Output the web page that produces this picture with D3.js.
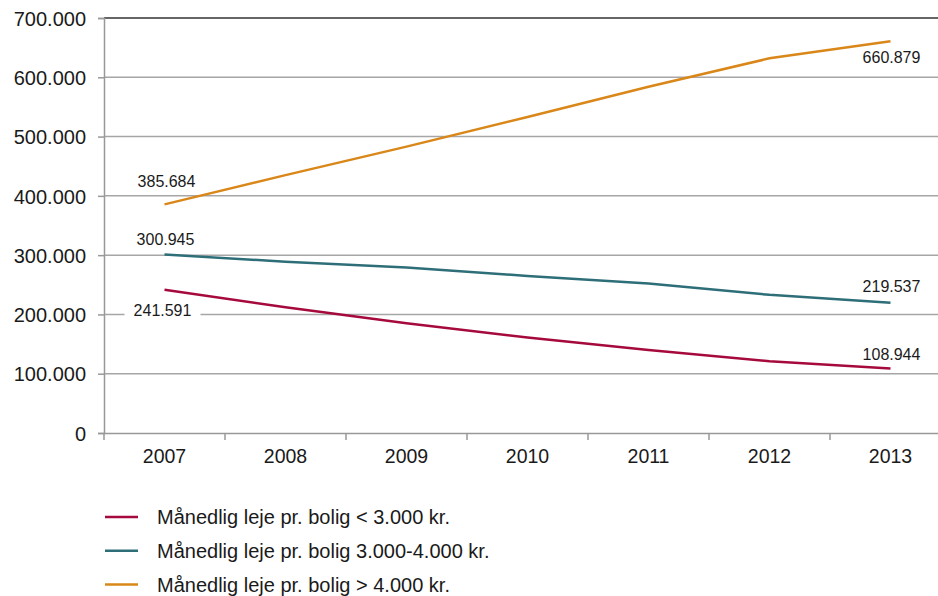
<!DOCTYPE html>
<meta charset="utf-8">
<html>
<head>
<script src="https://d3js.org/d3.v7.min.js"></script>
<style>
  body { margin: 0; background: #fff; }
  svg { display: block; font-family: "Liberation Sans", Arial, sans-serif; }
  .grid line { stroke: #a6a6a6; stroke-width: 1.5; }
  .tick text { fill: #1a1a1a; }
</style>
</head>
<body>
<svg id="chart" width="938" height="596"></svg>
<script>
  // data
  var years = ["2007", "2008", "2009", "2010", "2011", "2012", "2013"];
  var seriesNames = [
    "Månedlig leje pr. bolig < 3.000 kr.",
    "Månedlig leje pr. bolig 3.000-4.000 kr.",
    "Månedlig leje pr. bolig > 4.000 kr."
  ];
  var under3000 = [241591, 212000, 185000, 161000, 140000, 121000, 108944];
  var from3000to4000 = [300945, 289000, 279000, 265000, 252000, 233000, 219537];
  var over4000 = [385684, 435000, 483000, 533000, 584000, 632000, 660879];
  var yTicks = [0, 100000, 200000, 300000, 400000, 500000, 600000, 700000];
  var colors = ["#a60a3d", "#2e6e78", "#d98719"];

  var svg = d3.select("#chart");
  var margin = { top: 18, left: 104 };
  var plotW = 847, plotH = 415;

  var x = d3.scaleBand().domain(years).range([0, plotW]);
  var y = d3.scaleLinear().domain([0, 700000]).range([plotH, 0]);
  var fmt = function (v) { return v === 0 ? "0" : d3.format(",")(v).replace(/,/g, "."); };

  var g = svg.append("g").attr("transform", "translate(" + margin.left + "," + margin.top + ")");

  // gridlines
  g.append("g").attr("class", "grid")
    .selectAll("line")
    .data(yTicks.filter(function (d) { return d > 0; }))
    .enter().append("line")
    .attr("x1", 0).attr("x2", plotW)
    .attr("y1", function (d) { return y(d); })
    .attr("y2", function (d) { return y(d); })
    .style("stroke", function (d) { return d === 700000 ? "#333" : null; });

  // y axis
  var yAxis = g.append("g")
    .call(d3.axisLeft(y).tickValues(yTicks).tickFormat(fmt).tickSize(6).tickPadding(12));
  yAxis.select(".domain").attr("stroke", "#999").attr("stroke-width", 1.5);
  yAxis.selectAll(".tick line").attr("stroke", "#999").attr("stroke-width", 1.5);
  yAxis.selectAll(".tick text").style("font-size", "20px").attr("dy", "0.36em");

  // x axis
  var xAxis = g.append("g").attr("transform", "translate(0," + plotH + ")")
    .call(d3.axisBottom(x).tickSize(0).tickPadding(16));
  xAxis.select(".domain").attr("stroke", "#999").attr("stroke-width", 1.5);
  xAxis.selectAll(".tick text").style("font-size", "19.5px");
  // ticks between categories
  g.append("g").selectAll("line")
    .data(years.concat(["end"]))
    .enter().append("line")
    .attr("x1", function (d, i) { return i * x.step(); })
    .attr("x2", function (d, i) { return i * x.step(); })
    .attr("y1", plotH).attr("y2", plotH + 7)
    .attr("stroke", "#999").attr("stroke-width", 1.5);

  var allSeries = [under3000, from3000to4000, over4000];
  var line = d3.line()
    .x(function (d, i) { return x(years[i]) + x.bandwidth() / 2; })
    .y(function (d) { return y(d); });

  allSeries.forEach(function (s, k) {
    g.append("path").datum(s)
      .attr("d", line)
      .attr("fill", "none")
      .attr("stroke", colors[k])
      .attr("stroke-width", 2.5);
  });

  // data labels (first and last point)
  var labels = [
    { s: 0, i: 0, dx: -2, dy: 26, bg: true },
    { s: 1, i: 0, dx: 1, dy: -10 },
    { s: 2, i: 0, dx: 2, dy: -17 },
    { s: 0, i: 6, dx: 1, dy: -8 },
    { s: 1, i: 6, dx: 1, dy: -11 },
    { s: 2, i: 6, dx: 1, dy: 22 }
  ];
  labels.forEach(function (l) {
    var v = allSeries[l.s][l.i];
    var cx = x(years[l.i]) + x.bandwidth() / 2 + l.dx;
    var cy = y(v) + l.dy;
    if (l.bg) {
      g.append("rect").attr("x", cx - 38).attr("y", cy - 14).attr("width", 76).attr("height", 18).attr("fill", "#fff");
    }
    g.append("text")
      .attr("x", cx).attr("y", cy)
      .attr("text-anchor", "middle")
      .style("font-size", "16px").attr("fill", "#1a1a1a")
      .text(fmt(v));
  });

  // legend
  var legend = svg.append("g").attr("transform", "translate(105,517)");
  seriesNames.forEach(function (name, k) {
    var row = legend.append("g").attr("transform", "translate(0," + (k * 33.7) + ")");
    row.append("line").attr("x1", 0).attr("x2", 33).attr("y1", 0).attr("y2", 0)
      .attr("stroke", colors[k]).attr("stroke-width", 2.5);
    row.append("text").attr("x", 52).attr("y", 0).attr("dy", "0.36em")
      .style("font-size", "20px").attr("fill", "#1a1a1a").text(name);
  });
</script>
</body>
</html>
